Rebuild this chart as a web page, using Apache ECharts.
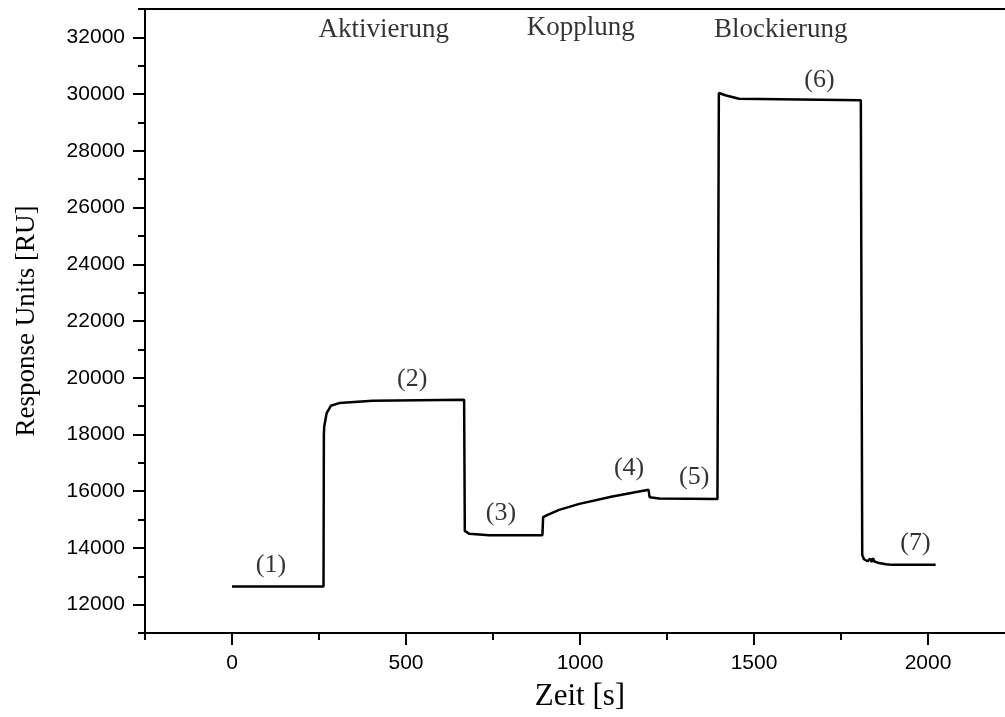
<!DOCTYPE html>
<html>
<head>
<meta charset="utf-8">
<script src="https://cdn.jsdelivr.net/npm/echarts@6/dist/echarts.min.js"></script>
<style>html,body{margin:0;padding:0;background:#fff}#c{width:1005px;height:717px}</style>
</head>
<body>
<div id="c"></div>
<script>
// ---- data ----
const timeS = [0, 263, 264, 265, 272, 284, 308, 404, 667, 669, 682, 739, 892, 894, 907, 940, 998, 1093, 1197, 1200, 1228, 1395, 1399, 1420, 1457, 1572, 1807, 1811, 1816, 1826, 1830, 1834, 1838, 1842, 1846, 1850, 1856, 1879, 1898, 2022];
const responseRU = [12637, 12637, 18000, 18280, 18752, 19010, 19105, 19186, 19220, 14600, 14496, 14450, 14450, 15085, 15165, 15342, 15553, 15810, 16047, 15790, 15741, 15720, 30039, 29950, 29838, 29820, 29780, 13755, 13600, 13530, 13560, 13620, 13500, 13640, 13520, 13560, 13480, 13425, 13402, 13402];

const xMajorTicks = [0, 500, 1000, 1500, 2000];
const yMajorTicks = [12000, 14000, 16000, 18000, 20000, 22000, 24000, 26000, 28000, 30000, 32000];

const phaseNames = ['Aktivierung', 'Kopplung', 'Blockierung'];
const phaseX = [436, 1002, 1577];
const phaseY = [32272, 32320, 32272];

const stepNames = ['(1)', '(2)', '(3)', '(4)', '(5)', '(6)', '(7)'];
const stepX = [112, 518, 773, 1141, 1328, 1688, 1964];
const stepY = [13400, 19961, 15235, 16822, 16504, 30508, 14176];

// axis ranges
const X_MIN = -250, X_MAX = 2250, X_MINOR = 250, X_MAJOR = 500;
const Y_MIN = 11000, Y_MAX = 33000, Y_MINOR = 1000, Y_MAJOR = 2000;

// ---- layout (pixels) ----
const W = 1005, H = 717;
const G_LEFT = 145, G_TOP = 9, G_WIDTH = 870, G_BOTTOM = 84;
const G_HEIGHT = H - G_TOP - G_BOTTOM;
const pxPerX = G_WIDTH / (X_MAX - X_MIN);
const pxPerY = G_HEIGHT / (Y_MAX - Y_MIN);
const xMajLo = xMajorTicks[0], xMajHi = xMajorTicks[xMajorTicks.length - 1];
const yMajLo = yMajorTicks[0], yMajHi = yMajorTicks[yMajorTicks.length - 1];

// ---- chart ----
const SERIF = 'Liberation Serif';
const SANS = 'Liberation Sans';
const lineData = timeS.map((t, i) => [t, responseRU[i]]);
const phaseData = phaseNames.map((n, i) => [phaseX[i], phaseY[i], n]);
const stepData = stepNames.map((n, i) => [stepX[i], stepY[i], n]);

const hidden = {show: false};
function hiddenAxis(grid, min, max) {
  return {type: 'value', gridIndex: grid, min: min, max: max, show: false,
    axisLine: {show: false, onZero: false}, axisTick: hidden, axisLabel: hidden, splitLine: hidden};
}
function majorTickAxis(grid, pos, min, max, interval, len) {
  return {type: 'value', gridIndex: grid, position: pos, min: min, max: max, interval: interval,
    axisLine: {show: true, onZero: false, lineStyle: {color: 'rgba(0,0,0,0)', width: 0}}, splitLine: hidden, axisLabel: hidden,
    axisTick: {show: true, length: len, lineStyle: {color: '#000', width: 2}}};
}

const chart = echarts.init(document.getElementById('c'), null, {renderer: 'canvas'});
chart.setOption({
  animation: false,
  backgroundColor: '#fff',
  grid: [
    {left: G_LEFT, top: G_TOP, width: G_WIDTH, bottom: G_BOTTOM, outerBoundsMode: 'none', containLabel: false,
     show: true, borderColor: '#000', borderWidth: 2, backgroundColor: 'transparent'},
    {left: G_LEFT + (xMajLo - X_MIN) * pxPerX, width: (xMajHi - xMajLo) * pxPerX, top: G_TOP, bottom: G_BOTTOM,
     outerBoundsMode: 'none', containLabel: false, show: false},
    {left: G_LEFT, width: G_WIDTH, top: G_TOP + (Y_MAX - yMajHi) * pxPerY, bottom: G_BOTTOM + (yMajLo - Y_MIN) * pxPerY,
     outerBoundsMode: 'none', containLabel: false, show: false}
  ],
  xAxis: [
    {type: 'value', gridIndex: 0, position: 'bottom', min: X_MIN, max: X_MAX, interval: X_MINOR,
     axisLine: {show: true, onZero: false, lineStyle: {color: '#000', width: 2}}, splitLine: hidden,
     axisTick: {show: true, length: 7, lineStyle: {color: '#000', width: 2}},
     axisLabel: {show: true, customValues: xMajorTicks, formatter: v => String(v), fontSize: 21, fontFamily: SANS, color: '#000', margin: 20},
     name: 'Zeit [s]', nameLocation: 'middle', nameGap: 48,
     nameTextStyle: {fontFamily: SERIF, fontSize: 31, color: '#000'}},
    majorTickAxis(1, 'bottom', xMajLo, xMajHi, X_MAJOR, 12),
    hiddenAxis(2, X_MIN, X_MAX)
  ],
  yAxis: [
    {type: 'value', gridIndex: 0, position: 'left', min: Y_MIN, max: Y_MAX, interval: Y_MINOR,
     axisLine: {show: true, onZero: false, lineStyle: {color: '#000', width: 2}}, splitLine: hidden,
     axisTick: {show: true, length: 7, lineStyle: {color: '#000', width: 2}},
     axisLabel: {show: true, customValues: yMajorTicks, formatter: v => String(v), fontSize: 21, fontFamily: SANS, color: '#000', margin: 20},
     name: 'Response Units [RU]', nameLocation: 'middle', nameGap: 105, nameRotate: 90,
     nameTextStyle: {fontFamily: SERIF, fontSize: 27, color: '#000'}},
    hiddenAxis(1, Y_MIN, Y_MAX),
    majorTickAxis(2, 'left', yMajLo, yMajHi, Y_MAJOR, 12)
  ],
  series: [
    {type: 'line', data: lineData, xAxisIndex: 0, yAxisIndex: 0, showSymbol: false, symbol: 'none',
     lineStyle: {color: '#000', width: 2.5}, clip: true},
    {type: 'scatter', data: phaseData, symbolSize: 0, xAxisIndex: 0, yAxisIndex: 0, silent: true,
     label: {show: true, position: 'inside', formatter: p => p.value[2], fontFamily: SERIF, fontSize: 27, color: '#000', textBorderWidth: 0}},
    {type: 'scatter', data: stepData, symbolSize: 0, xAxisIndex: 0, yAxisIndex: 0, silent: true,
     label: {show: true, position: 'inside', formatter: p => p.value[2], fontFamily: SERIF, fontSize: 26, color: '#000', textBorderWidth: 0}}
  ]
});
</script>
</body>
</html>
